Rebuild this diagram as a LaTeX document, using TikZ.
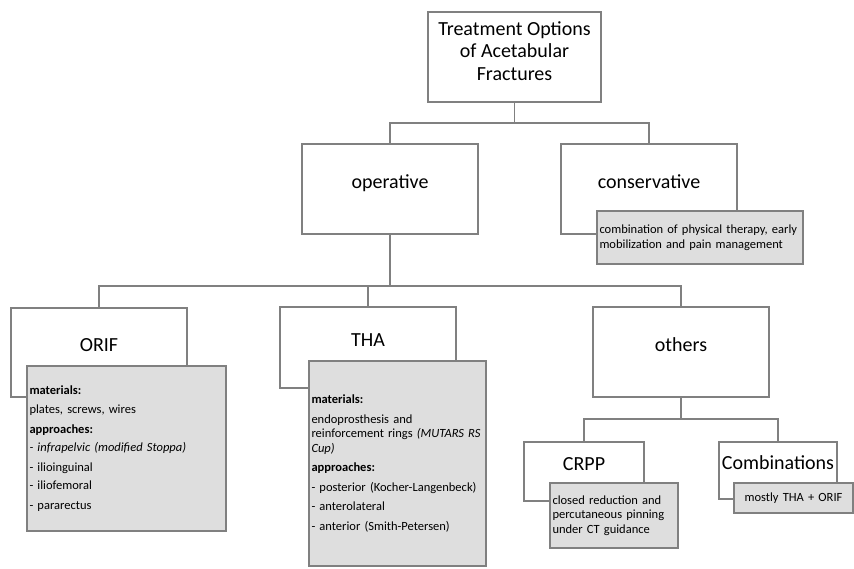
\documentclass[tikz,border=0pt]{standalone}
\usepackage{fontspec}
\setmainfont{Carlito}
\begin{document}
\begin{tikzpicture}[x=1pt,y=-1pt]
\definecolor{linegray}{RGB}{128,128,128}
\definecolor{notegray}{RGB}{222,222,222}
\tikzstyle{catbox}=[draw=linegray,line width=1.5pt,fill=white,rectangle,inner sep=0pt]
\tikzstyle{cattext}=[font=\fontsize{20}{23}\selectfont,align=center,text height=14pt,text depth=4pt]
\tikzstyle{notebox}=[draw=linegray,line width=1.5pt,fill=notegray,rectangle,inner xsep=2.5pt,inner ysep=0pt,align=left,font=\fontsize{12.5}{14.5}\selectfont]
\tikzstyle{conn}=[draw=linegray,line width=1.5pt]
\useasboundingbox (0,0) rectangle (854,568);
\coordinate (b1) at (0,123);
\coordinate (b2) at (0,286);
\coordinate (b3) at (0,419);
\node[catbox,minimum width=173pt,minimum height=90pt] (root) at (514.5,57) {};
\node[catbox,minimum width=176pt,minimum height=90pt] (op) at (390,189) {};
\node[catbox,minimum width=176pt,minimum height=90pt] (cons) at (649,189) {};
\node[catbox,minimum width=176pt,minimum height=89pt] (orif) at (99,352.5) {};
\node[catbox,minimum width=176pt,minimum height=81pt] (tha) at (368,347.5) {};
\node[catbox,minimum width=176pt,minimum height=90pt] (oth) at (681,352) {};
\node[catbox,minimum width=120pt,minimum height=59pt] (crpp) at (584,471.5) {};
\node[catbox,minimum width=118pt,minimum height=57pt] (comb) at (778,470.5) {};
\node[align=center,font=\fontsize{20}{22.5}\selectfont] (root-t) at ([yshift=6pt]root.center) {Treatment Options\\of Acetabular\\Fractures};
\node[cattext] (op-t) at ([yshift=6pt]op.center) {operative};
\node[cattext] (cons-t) at ([yshift=6pt]cons.center) {conservative};
\node[cattext] (orif-t) at ([yshift=6pt]orif.center) {ORIF};
\node[cattext] (tha-t) at ([yshift=6pt]tha.center) {THA};
\node[cattext] (oth-t) at ([yshift=6pt]oth.center) {others};
\node[cattext] (crpp-t) at ([yshift=6pt]crpp.center) {CRPP};
\node[cattext] (comb-t) at ([yshift=6pt]comb.center) {Combinations};
\draw[conn] (root.south) -- (root.south |- b1);
\draw[conn] (op.north) -- (op.north |- b1) -| (cons.north);
\draw[conn] (op.south) -- (op.south |- b2);
\draw[conn] (orif.north) -- (orif.north |- b2) -| (oth.north);
\draw[conn] (tha.north) -- (tha.north |- b2);
\draw[conn] (oth.south) -- (oth.south |- b3);
\draw[conn] (crpp.north) -- (crpp.north |- b3) -| (comb.north);
\node[notebox,text width=201pt,minimum height=53pt] (cons-n) at (700,237.5) {combination of physical therapy, early\\mobilization and pain management};
\node[notebox,text width=194pt,minimum height=165pt] (orif-n) at (126.5,448.5) {\textbf{materials:}\\[5pt]
plates, screws, wires\\[5pt]
\textbf{approaches:}\\[4pt]
\textit{- infrapelvic (modified Stoppa)}\\[5pt]
- ilioinguinal\\[4pt]
- iliofemoral\\[5pt]
- pararectus};
\node[notebox,text width=172pt,minimum height=205pt] (tha-n) at (397.5,463.5) {\textbf{materials:}\\[5pt]
endoprosthesis and\\
reinforcement rings \textit{(MUTARS RS}\\
\textit{Cup)}\\[5pt]
\textbf{approaches:}\\[5pt]
- posterior (Kocher-Langenbeck)\\[5pt]
- anterolateral\\[5pt]
- anterior (Smith-Petersen)};
\node[notebox,text width=123pt,minimum height=65pt] (crpp-n) at (614,515.5) {closed reduction and\\percutaneous pinning\\under CT guidance};
\node[notebox,align=center,text width=114pt,minimum height=30pt] (comb-n) at (793.5,498) {mostly THA + ORIF};
\end{tikzpicture}
\end{document}
